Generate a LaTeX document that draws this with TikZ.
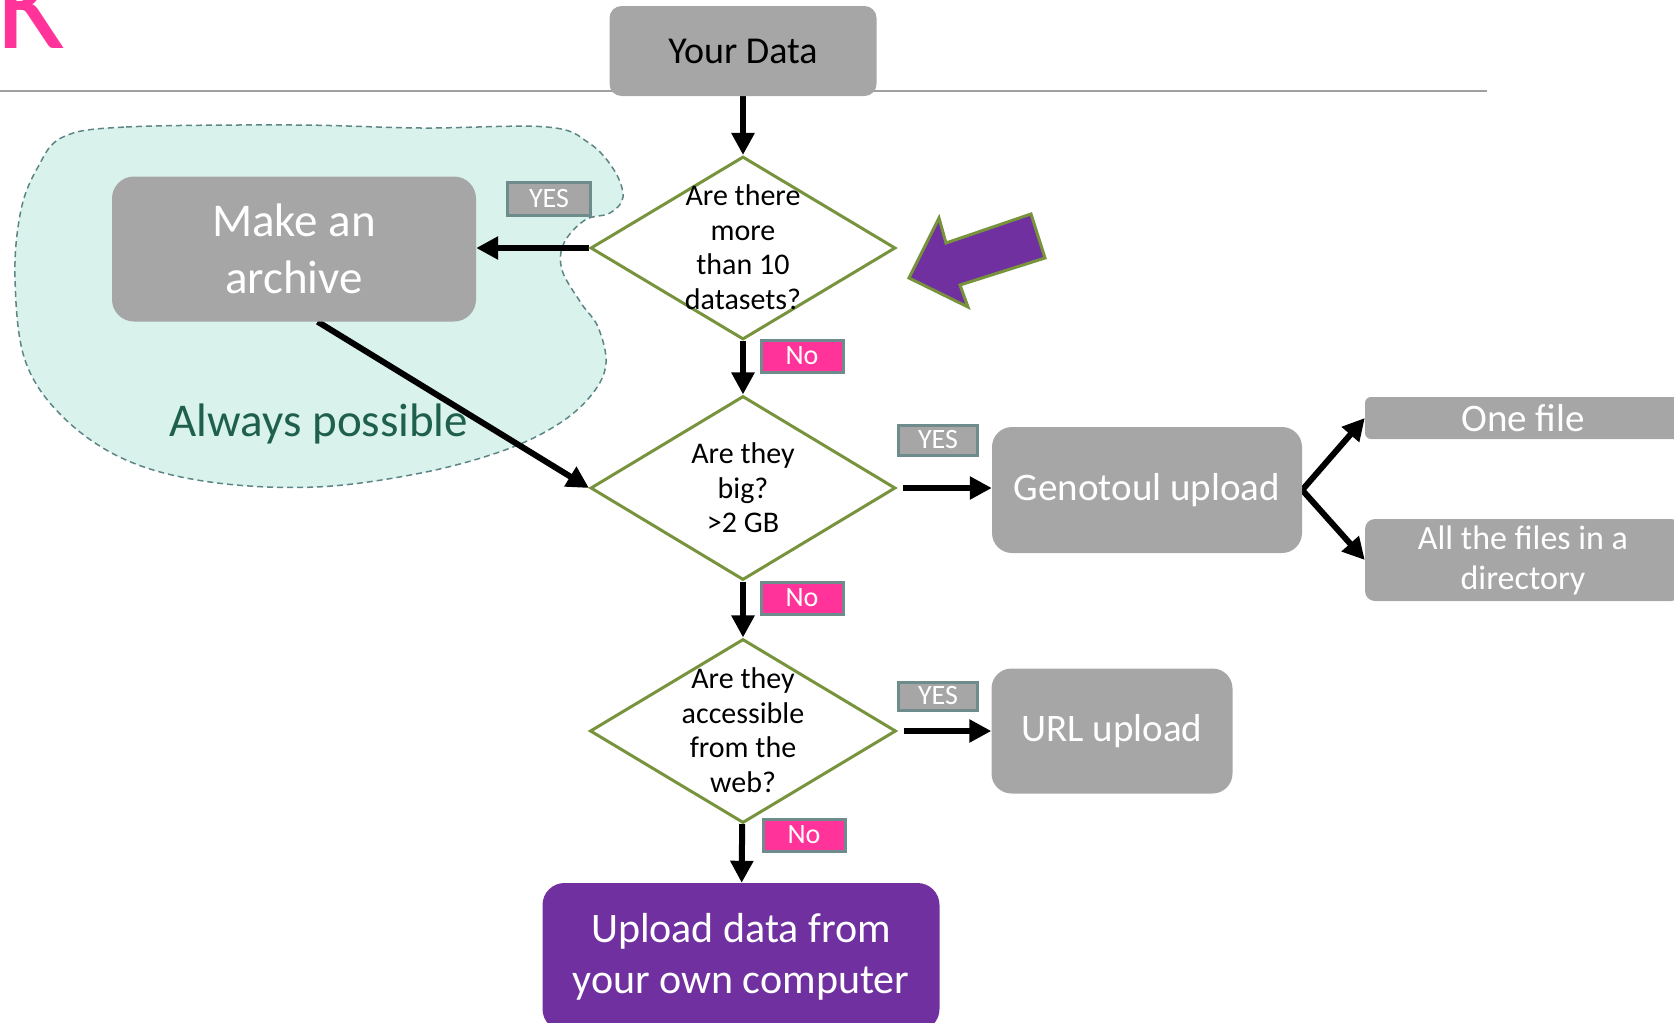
\documentclass[tikz,border=0pt]{standalone}
\usepackage{fontspec}
\setmainfont{Carlito}
\usepackage{xcolor}
\usepackage{tikz}
\usetikzlibrary{shapes,shapes.geometric}
\usetikzlibrary{arrows.meta}
\usetikzlibrary{calc,backgrounds}
\pgfdeclarelayer{edgelayer}
\pgfdeclarelayer{nodelayer}
\pgfsetlayers{background,edgelayer,nodelayer,main}
\definecolor{boxgrey}{RGB}{166,166,166}
\definecolor{qgreen}{RGB}{119,147,60}
\definecolor{tagedge}{RGB}{111,140,140}
\definecolor{nopink}{RGB}{255,51,153}
\definecolor{uppurple}{RGB}{112,48,160}
\definecolor{blobfill}{RGB}{217,242,236}
\definecolor{blobedge}{RGB}{94,133,133}
\definecolor{alwaysgreen}{RGB}{30,96,76}
\definecolor{rulegrey}{RGB}{160,160,160}
\tikzstyle{grey box}=[rectangle,rounded corners=20pt,fill=boxgrey,text=white,align=center,inner sep=0pt]
\tikzstyle{decision}=[diamond,draw=qgreen,line width=3pt,fill=white,inner sep=0pt,minimum width=305pt,minimum height=183pt]
\tikzstyle{qtext}=[align=center,inner sep=0pt,font=\fontsize{30}{34.5}\selectfont]
\tikzstyle{yes tag}=[rectangle,fill=boxgrey,draw=tagedge,line width=3pt,text=white,minimum width=79pt,minimum height=30pt,inner sep=0pt,font=\fontsize{28}{34}\selectfont]
\tikzstyle{no tag}=[yes tag,fill=nopink,minimum width=82pt,minimum height=32pt]
\tikzstyle{flow}=[line width=6pt,-{Triangle[length=22pt,width=22pt]}]
\tikzstyle{blob}=[fill=blobfill,draw=blobedge,line width=1.5pt,dash pattern=on 6pt off 4pt]
\tikzstyle{possible text}=[inner sep=0pt,text=alwaysgreen,font=\fontsize{47}{57}\selectfont]

\begin{document}
\begin{tikzpicture}[x=1pt,y=-1pt]
	\useasboundingbox (0,0) rectangle (1674,1023);
	\begin{pgfonlayer}{background}
		\draw [style=blob] plot [smooth cycle, tension=0.6] coordinates {
			(63,137) (126,127) (295,125) (421,128) (547,127) (589,143) (614,170)
			(623,197) (610,213) (585,220) (564,243) (562,270) (581,303) (598,327)
			(606,363) (593,393) (560,423) (505,450) (421,473) (316,487) (210,482)
			(126,460) (63,417) (25,360) (15,277) (21,210) (38,167)};
		\node [style=possible text, anchor=base] (possible) at (319,436) {Always possible};
		\draw [rulegrey, line width=1.5pt] (0,91) -- (1487,91);
		\node [anchor=base west, inner sep=0pt, text=nopink, font=\fontsize{130}{130}\selectfont] (k) at (-3,48) {K};
	\end{pgfonlayer}
	\begin{pgfonlayer}{nodelayer}
		\node [style=grey box, rounded corners=12pt, minimum width=267pt, minimum height=90pt, text=black, font=\fontsize{38}{46}\selectfont] (data) at (743,51) {Your Data};
		\node [style=decision] (q1) at (743,248) {};
		\node [style=qtext] (q1t) at (743,247) {Are there\\more\\than 10\\datasets?};
		\node [style=grey box, rounded corners=22pt, minimum width=364pt, minimum height=145pt, font=\fontsize{47}{57.5}\selectfont] (archive) at (294,249) {Make an\\archive};
		\node [style=decision, minimum height=184pt] (q2) at (743,488) {};
		\node [style=qtext] (q2t) at (743,488) {Are they\\big?\\>2 GB};
		\node [style=grey box, minimum width=310pt, minimum height=126pt, font=\fontsize{39}{47}\selectfont] (geno) at (1147,490) {Genotoul upload};
		\node [style=grey box, rounded corners=6pt, minimum width=316pt, minimum height=42pt, font=\fontsize{39}{47}\selectfont] (onefile) at (1523,418) {One file};
		\node [style=grey box, rounded corners=10pt, minimum width=316pt, minimum height=82pt, font=\fontsize{34}{40}\selectfont] (allfiles) at (1523,560) {All the files in a\\directory};
		\node [style=decision, minimum width=306pt, minimum height=184pt] (q3) at (743,731) {};
		\node [style=qtext] (q3t) at (743,730) {Are they\\accessible\\from the\\web?};
		\node [style=grey box, minimum width=241pt, minimum height=125pt, font=\fontsize{39}{47}\selectfont] (url) at (1112,731) {URL upload};
		\node [style=grey box, fill=uppurple, rounded corners=22pt, minimum width=397pt, minimum height=148pt, font=\fontsize{42}{51}\selectfont] (upload) at (741,957) {Upload data from\\your own computer};
		\node [style=yes tag, minimum width=83pt, minimum height=33pt] (yes1) at (549,199) {YES};
		\node [style=no tag] (no1) at (802,356) {No};
		\node [style=yes tag] (yes2) at (938,440) {YES};
		\node [style=no tag] (no2) at (802,598) {No};
		\node [style=yes tag, minimum height=28pt] (yes3) at (938,696) {YES};
		\node [style=no tag] (no3) at (804,835) {No};
	\end{pgfonlayer}
	\begin{pgfonlayer}{edgelayer}
		\draw [style=flow] (data) to (q1);
		\draw [style=flow] (q1.west) to (q1.west -| archive.east);
		\draw [style=flow] (q1) to (q2);
		\draw [style=flow] (archive.-72) to (q2.west);
		\draw [style=flow, shorten <=6pt] (q2.east) to (q2.east -| geno.west);
		\draw [style=flow] (geno.east) to (onefile.west);
		\draw [style=flow] (geno.east) to (allfiles.west);
		\draw [style=flow] (q2) to (q3);
		\draw [style=flow, shorten <=6pt] (q3.east) to (url.west);
		\draw [style=flow] (q3) to (upload);
	\end{pgfonlayer}
	% pointer
	\draw [fill=uppurple, draw=qgreen, line width=3pt] (909,278) -- (939,218) -- (946,243) -- (1031,214) -- (1045,258) -- (960,285) -- (968,307) -- cycle;
\end{tikzpicture}
\end{document}
